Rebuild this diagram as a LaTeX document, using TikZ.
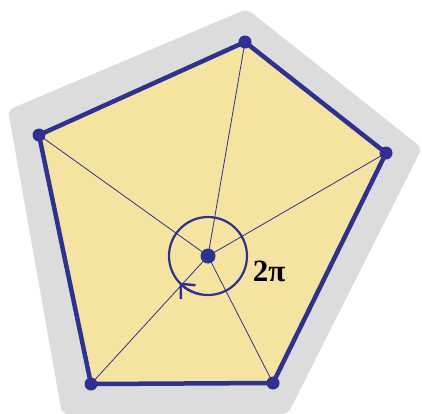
\documentclass[tikz,border=0pt]{standalone}
\usepackage{fontspec}
\setmainfont{Liberation Serif}
\usetikzlibrary{arrows.meta,calc}
\definecolor{shadowgray}{HTML}{DCDCDC}
\definecolor{fillyellow}{HTML}{F5E3A0}
\definecolor{edgeblue}{HTML}{2E3192}
\tikzset{
  edge/.style={draw=edgeblue,line width=4.5pt,line join=round},
  spoke/.style={draw=edgeblue,line width=0.8pt},
  vdot/.style={circle,fill=edgeblue,inner sep=0pt,minimum size=13pt},
  cdot/.style={circle,fill=edgeblue,inner sep=0pt,minimum size=15pt},
  anglecirc/.style={draw=edgeblue,line width=2.2pt},
  lbl/.style={font=\bfseries\fontsize{31}{31}\selectfont,text=black,inner sep=0pt}
}
\begin{document}
\begin{tikzpicture}[x=1pt,y=-1pt]
\useasboundingbox (0,0) rectangle (422,413);
% shadow
\fill[shadowgray,rounded corners=6pt] (8,110) -- (247,9) -- (422,148) -- (288,414) -- (62,414) -- cycle;
% vertices and centre
\coordinate (T) at (245,42);
\coordinate (R) at (386,153);
\coordinate (BR) at (273,383);
\coordinate (BL) at (91,384);
\coordinate (L) at (39,135);
\coordinate (O) at (208,256);
% face
\fill[fillyellow] (T) -- (R) -- (BR) -- (BL) -- (L) -- cycle;
% spokes
\foreach \v in {T,R,BR,BL,L} \draw[spoke] (O) -- (\v);
% edges
\draw[edge] (T) -- (R) -- (BR) -- (BL) -- (L) -- cycle;
% angle circle
\draw[anglecirc] (O) circle (39);
\draw[anglecirc,-{Straight Barb[length=11pt,width=20pt,line width=2.4pt]}] ($(O)+(100:39)$) arc[start angle=100,end angle=137,radius=39];
% dots
\foreach \v in {T,R,BR,BL,L} \node[vdot] (d\v) at (\v) {};
\node[cdot] (dO) at (O) {};
% label
\node[lbl] (lab) at (269,271) {2π};
\end{tikzpicture}
\end{document}
